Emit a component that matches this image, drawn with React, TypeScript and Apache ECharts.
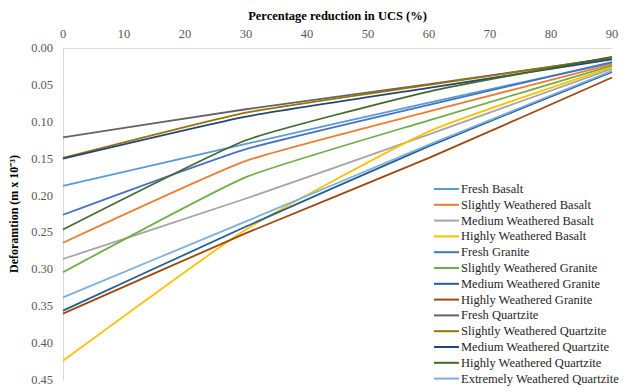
import React, { useEffect, useRef } from "react";
import * as echarts from "echarts";

// Percentage reduction in UCS at which deformation was recorded
const reductionSteps = [0, 30, 60, 90];

// Deformation (m x 10^-3) per rock type and weathering grade
const freshBasalt = [0.187, 0.13, 0.074, 0.02];
const slightlyWeatheredBasalt = [0.264, 0.153, 0.086, 0.022];
const mediumWeatheredBasalt = [0.286, 0.204, 0.117, 0.028];
const highlyWeatheredBasalt = [0.424, 0.246, 0.113, 0.026];
const freshGranite = [0.226, 0.137, 0.077, 0.019];
const slightlyWeatheredGranite = [0.304, 0.175, 0.098, 0.024];
const mediumWeatheredGranite = [0.356, 0.242, 0.133, 0.0325];
const highlyWeatheredGranite = [0.36, 0.251, 0.149, 0.04];
const freshQuartzite = [0.121, 0.083, 0.049, 0.0135];
const slightlyWeatheredQuartzite = [0.149, 0.0876, 0.05, 0.0135];
const mediumWeatheredQuartzite = [0.15, 0.093, 0.054, 0.0155];
const highlyWeatheredQuartzite = [0.246, 0.125, 0.059, 0.012];
const extremelyWeatheredQuartzite = [0.338, 0.235, 0.131, 0.031];

const seriesNames = [
  "Fresh Basalt",
  "Slightly Weathered Basalt",
  "Medium Weathered Basalt",
  "Highly Weathered Basalt",
  "Fresh Granite",
  "Slightly Weathered Granite",
  "Medium Weathered Granite",
  "Highly Weathered Granite",
  "Fresh Quartzite",
  "Slightly Weathered Quartzite",
  "Medium Weathered Quartzite",
  "Highly Weathered Quartzite",
  "Extremely Weathered Quartzite",
];

const seriesValues = [
  freshBasalt,
  slightlyWeatheredBasalt,
  mediumWeatheredBasalt,
  highlyWeatheredBasalt,
  freshGranite,
  slightlyWeatheredGranite,
  mediumWeatheredGranite,
  highlyWeatheredGranite,
  freshQuartzite,
  slightlyWeatheredQuartzite,
  mediumWeatheredQuartzite,
  highlyWeatheredQuartzite,
  extremelyWeatheredQuartzite,
];

const seriesColors = [
  "#5B9BD5",
  "#ED7D31",
  "#A5A5A5",
  "#FFC000",
  "#4472C4",
  "#70AD47",
  "#255E91",
  "#9E480E",
  "#636363",
  "#997300",
  "#264478",
  "#43682B",
  "#7CAFDD",
];

const FONT = "'Liberation Serif', 'Times New Roman', serif";

export default function App() {
  const ref = useRef<HTMLDivElement>(null);

  useEffect(() => {
    if (!ref.current) return;
    const chart = echarts.init(ref.current, undefined, { renderer: "svg" });

    const series = seriesNames.map((name, i) => ({
      name,
      type: "line",
      symbol: "none",
      smooth: 0.15,
      data: reductionSteps.map((x, j) => [x, seriesValues[i][j]]),
      lineStyle: { width: 1.8, color: seriesColors[i] },
      itemStyle: { color: seriesColors[i] },
    }));

    chart.setOption({
      animation: false,
      backgroundColor: "#ffffff",
      textStyle: { fontFamily: FONT },
      grid: { left: 63, right: 15, top: 48, bottom: 12 },
      xAxis: {
        type: "value",
        position: "top",
        min: 0,
        max: 90,
        interval: 10,
        name: "Percentage reduction in UCS (%)",
        nameLocation: "middle",
        nameGap: 26,
        nameTextStyle: {
          fontFamily: FONT,
          fontWeight: "bold",
          fontSize: 12.5,
          color: "#000000",
        },
        axisLine: { show: true, lineStyle: { color: "#D9D9D9", width: 1 } },
        axisTick: { show: false },
        splitLine: { show: false },
        axisLabel: { fontFamily: FONT, fontSize: 12.5, color: "#595959", margin: 8 },
      },
      yAxis: {
        type: "value",
        inverse: true,
        min: 0,
        max: 0.45,
        interval: 0.05,
        name: "Deforamtion (m x 10\u207B\u00B3)",
        nameLocation: "middle",
        nameGap: 37,
        nameTextStyle: {
          fontFamily: FONT,
          fontWeight: "bold",
          fontSize: 12,
          color: "#000000",
        },
        axisLine: { show: true, lineStyle: { color: "#D9D9D9", width: 1 } },
        axisTick: { show: false },
        splitLine: { show: false },
        axisLabel: {
          fontFamily: FONT,
          fontSize: 12.5,
          color: "#595959",
          margin: 10,
          formatter: (v: number) => v.toFixed(2),
        },
      },
      legend: {
        orient: "vertical",
        left: 434,
        top: 182,
        padding: 0,
        icon: "rect",
        itemWidth: 25,
        itemHeight: 2,
        itemGap: 1.8,
        data: seriesNames,
        textStyle: {
          fontFamily: FONT,
          fontSize: 12.5,
          color: "#262626",
          lineHeight: 14,
          padding: [0, 0, 0, -3],
        },
      },
      series,
    });

    return () => chart.dispose();
  }, []);

  return (
    <div
      ref={ref}
      style={{ position: "absolute", left: 0, top: 0, width: 627, height: 392 }}
    />
  );
}
